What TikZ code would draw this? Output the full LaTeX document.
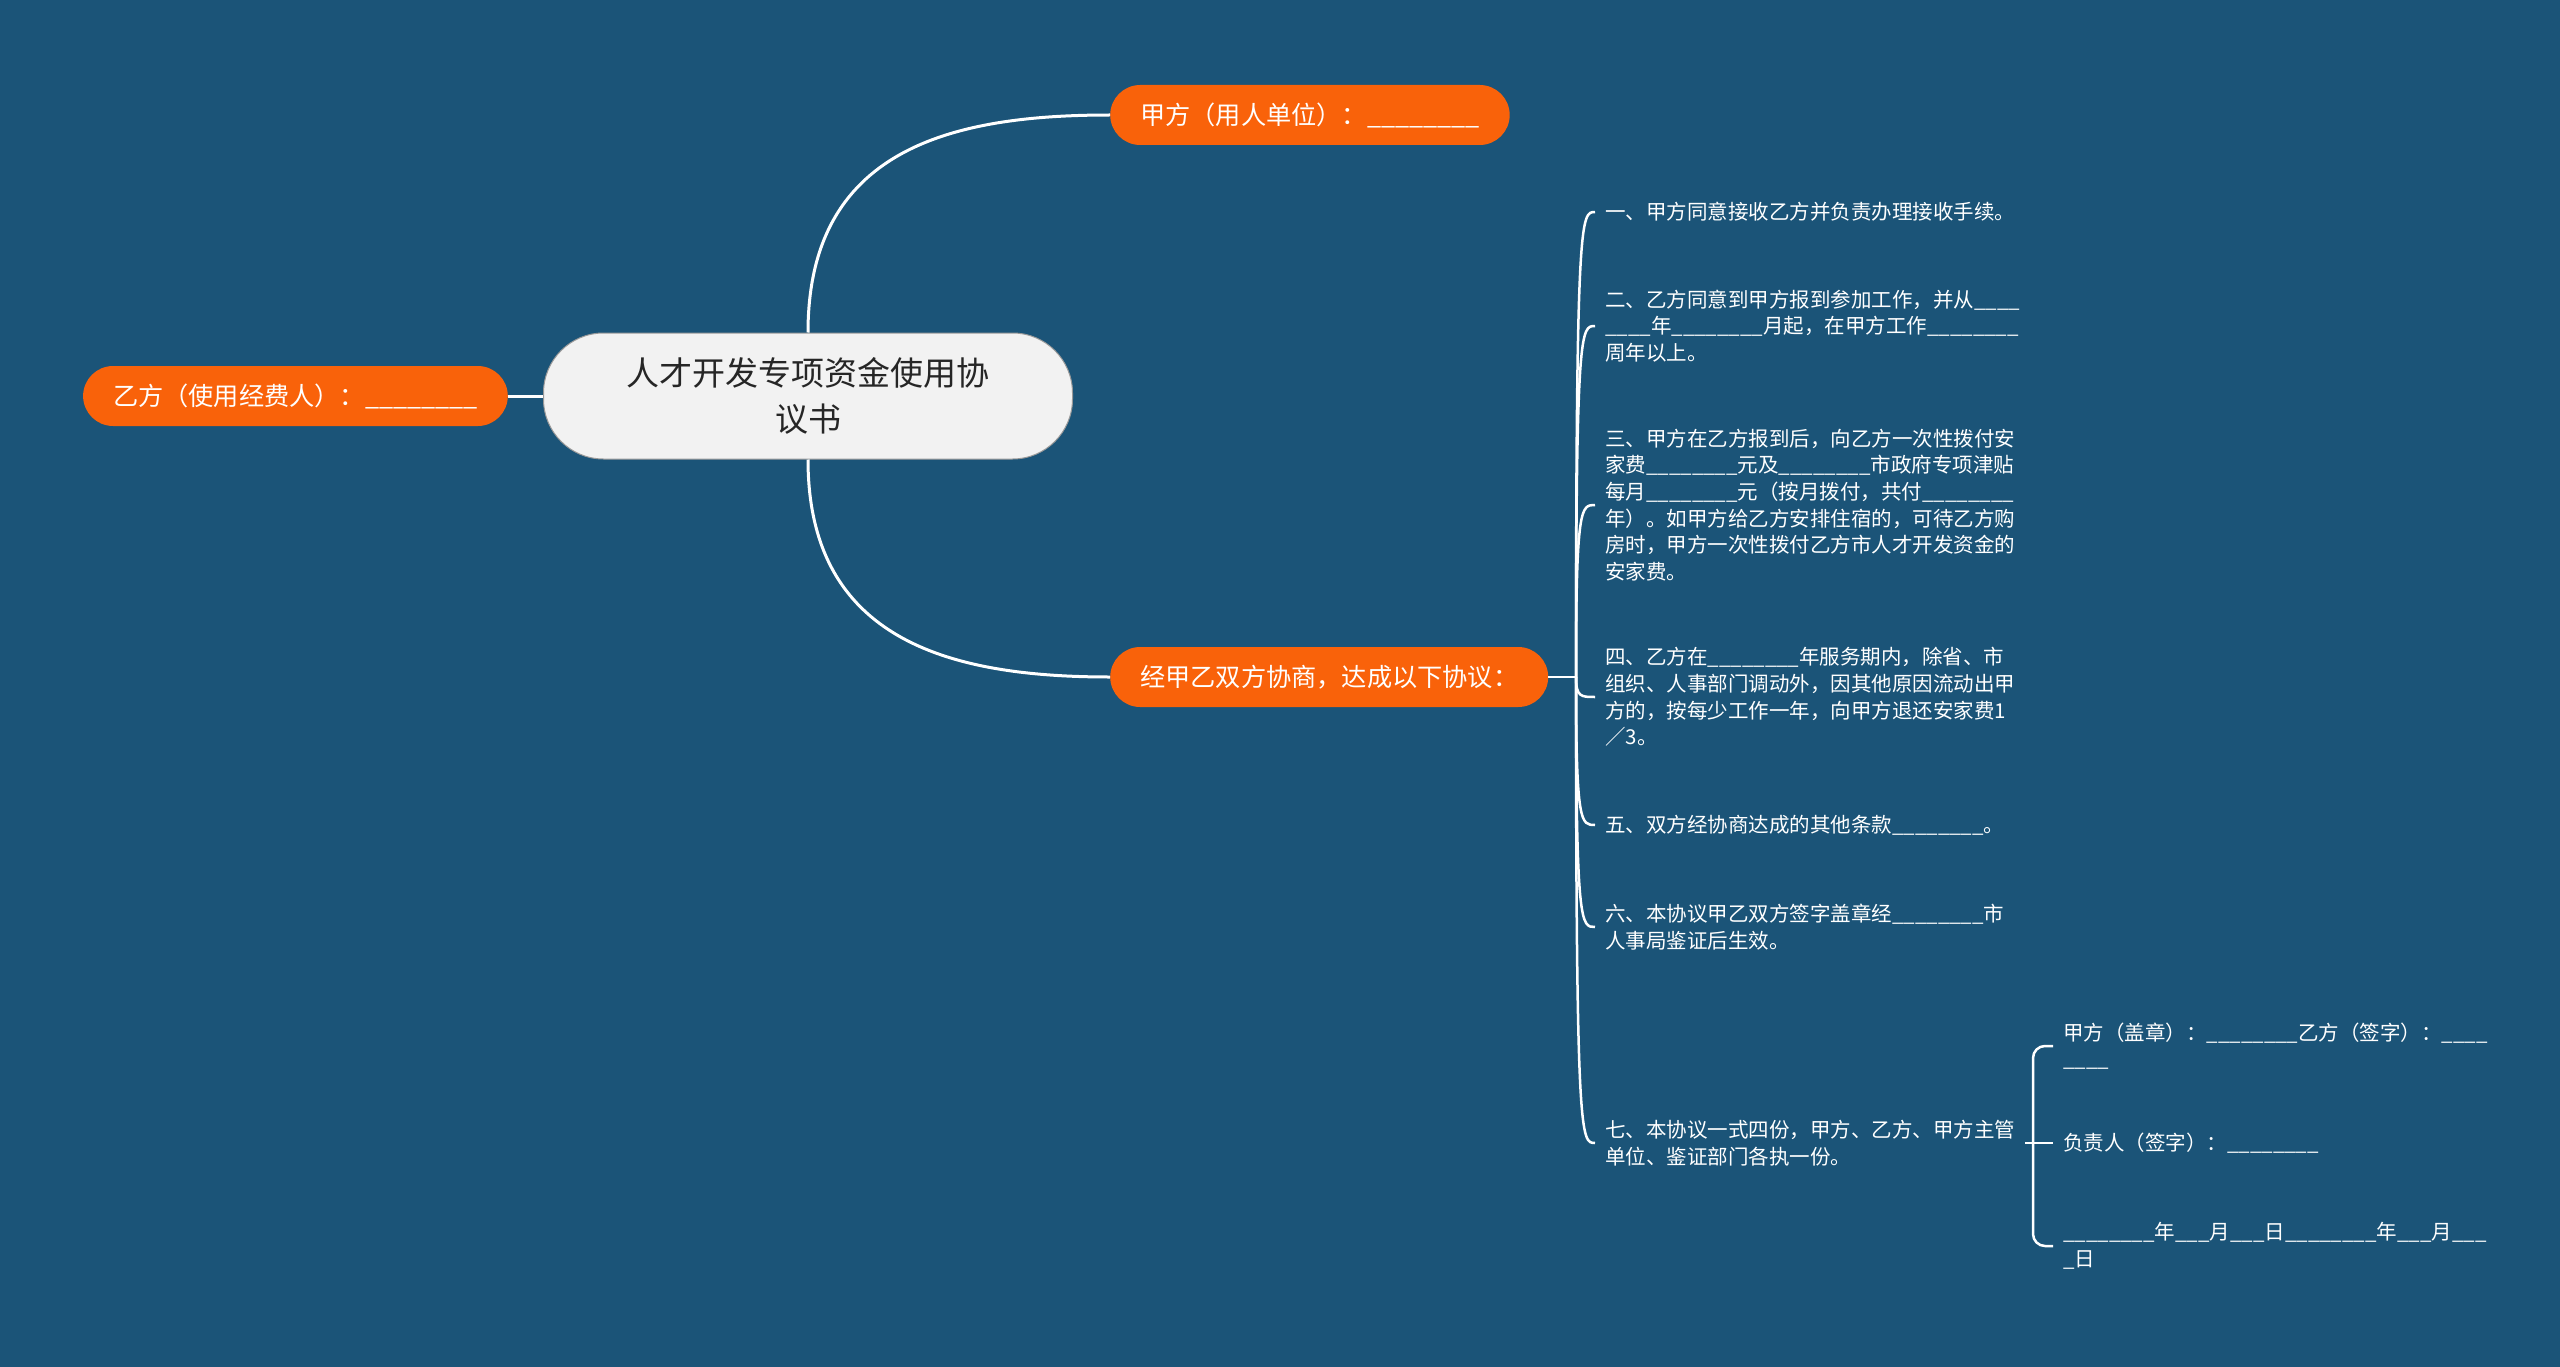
\documentclass[tikz,border=0pt]{standalone}
\usepackage{fontspec}
\setmainfont{Noto Sans CJK SC}
\usetikzlibrary{calc}
\definecolor{bgblue}{RGB}{27,84,120}
\definecolor{orng}{RGB}{249,98,10}
\definecolor{cengray}{RGB}{242,242,242}
\newcommand\blankE{\_\_\_\_\_\_\_\_}
\newcommand\blankF{\_\_\_\_}
\newcommand\blankT{\_\_\_}
\begin{document}
\begin{tikzpicture}[x=1pt,y=-1pt,
  orangebox/.style={fill=orng, text=white, rounded corners=30pt, minimum height=60pt, inner xsep=30pt, inner ysep=0pt, font=\fontsize{25.2}{30}\selectfont},
  leaf/.style={text=white, align=left, inner xsep=10pt, inner ysep=0pt, anchor=west, font=\fontsize{20.5}{26.6}\selectfont},
  link/.style={draw=white, line width=3pt},
  twig/.style={draw=white, line width=2.5pt}]
\fill[bgblue] (0,0) rectangle (2560,1367);
\useasboundingbox (0,0) rectangle (2560,1367);

% main nodes
\node[fill=cengray, draw=black!40, line width=1pt, rounded corners=60pt, minimum width=529pt, minimum height=126pt, align=center, text=black!85, font=\fontsize{33}{46}\selectfont] (c) at (808,396) {人才开发专项资金使用协\\议书};
\node[orangebox, anchor=east] (yi) at (508,396) {乙方（使用经费人）：\blankE};
\node[orangebox, anchor=west] (jia) at (1110,115) {甲方（用人单位）：\blankE};
\node[orangebox, anchor=west] (xie) at (1110,677) {经甲乙双方协商，达成以下协议：};

\coordinate (hub) at (1576,677);

% leaves
\node[leaf] (i1) at (1595,212) {一、甲方同意接收乙方并负责办理接收手续。};
\node[leaf] (i2) at (1595,326) {二、乙方同意到甲方报到参加工作，并从\blankF\\\blankF 年\blankE 月起，在甲方工作\blankE\\周年以上。};
\node[leaf] (i3) at (1595,505) {三、甲方在乙方报到后，向乙方一次性拨付安\\家费\blankE 元及\blankE 市政府专项津贴\\每月\blankE 元（按月拨付，共付\blankE\\年）。如甲方给乙方安排住宿的，可待乙方购\\房时，甲方一次性拨付乙方市人才开发资金的\\安家费。};
\node[leaf] (i4) at (1595,697) {四、乙方在\blankE 年服务期内，除省、市\\组织、人事部门调动外，因其他原因流动出甲\\方的，按每少工作一年，向甲方退还安家费1\\／3。};
\node[leaf] (i5) at (1595,825) {五、双方经协商达成的其他条款\blankE。};
\node[leaf] (i6) at (1595,927) {六、本协议甲乙双方签字盖章经\blankE 市\\人事局鉴证后生效。};
\node[leaf] (i7) at (1595,1143) {七、本协议一式四份，甲方、乙方、甲方主管\\单位、鉴证部门各执一份。};

\node[leaf] (sa) at (2053,1046) {甲方（盖章）：\blankE 乙方（签字）：\blankF\\\blankF};
\node[leaf] (sb) at (2053,1143) {负责人（签字）：\blankE};
\node[leaf] (sc) at (2053,1246) {\blankE 年\blankT 月\blankT 日\blankE 年\blankT 月\blankT\\\_日};

% connectors
\draw[link] (c.north) .. controls ($(c.north)+(0,-183)$) and ($(jia.west)+(-160,0)$) .. (jia.west);
\draw[link] (c.south) .. controls ($(c.south)+(0,181)$) and ($(xie.west)+(-160,0)$) .. (xie.west);
\draw[link] (yi.east) -- (c.west);
\draw[twig] (xie.east) -- (hub);
\foreach \k in {1,...,7}{
  \draw[twig] (hub) .. controls (hub |- i\k.west) and ($(hub |- i\k.west)+(5,0)$) .. (i\k.west);
}
\coordinate (brx) at (2033,1143);
\draw[twig] (i7.east) -- (sb.west);
\draw[twig, rounded corners=12pt] (sa.west) -- (sa.west -| brx) -- (sc.west -| brx) -- (sc.west);
\end{tikzpicture}
\end{document}
